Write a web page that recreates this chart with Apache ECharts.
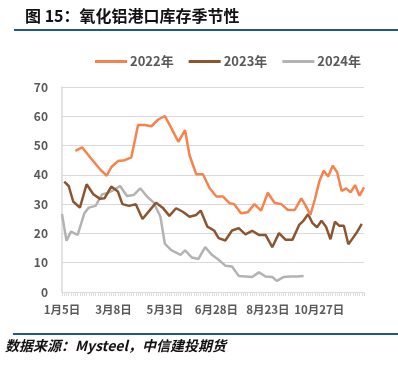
<!DOCTYPE html>
<html>
<head>
<meta charset="utf-8">
<script src="https://cdn.jsdelivr.net/npm/echarts@6/dist/echarts.min.js"></script>
<style>
html,body{margin:0;padding:0;background:#fff;}
#c{width:398px;height:367px;}
</style>
</head>
<body>
<div id="c"></div>
<script>
// ---- data ----
const tickLabels = ['1月5日', '3月8日', '5月3日', '6月28日', '8月23日', '10月27日'];
const slotCount = 136;
const labelEvery = 23;
const seriesNames = ['2022年', '2023年', '2024年'];

const pos2022 = [6, 9, 13, 17, 20, 22, 25, 28, 31, 34, 37, 40, 43, 46, 49, 52, 55, 57, 60, 63, 66, 69, 72, 75, 77, 80, 83, 86, 89, 92, 95, 98, 101, 104, 107, 109, 111, 113, 115, 117, 119, 121, 123, 125, 127, 129, 131, 133, 135];
const val2022 = [48.2, 49.4, 45.6, 41.9, 39.7, 42.6, 44.7, 45.0, 46.0, 57.0, 57.0, 56.6, 58.9, 60.1, 55.8, 51.3, 55.3, 46.7, 40.2, 40.2, 35.4, 32.6, 32.6, 30.3, 30.0, 26.9, 27.2, 30.0, 27.8, 33.9, 30.5, 30.0, 28.0, 28.0, 32.0, 29.4, 26.3, 31.5, 37.7, 41.4, 39.4, 43.1, 40.9, 34.5, 35.4, 34.0, 36.5, 32.9, 35.7];

const pos2023 = [1, 3, 5, 8, 11, 14, 17, 19, 22, 25, 27, 30, 33, 36, 39, 42, 45, 48, 51, 54, 57, 60, 62, 65, 68, 70, 73, 76, 79, 82, 85, 88, 91, 94, 97, 100, 103, 106, 108, 110, 112, 114, 116, 118, 120, 122, 124, 126, 128, 130, 132, 134];
const val2023 = [37.7, 36.2, 30.9, 28.8, 36.8, 33.4, 31.8, 32.0, 36.0, 34.3, 30.0, 29.4, 30.0, 24.9, 27.7, 30.5, 28.8, 26.0, 28.6, 27.4, 25.7, 26.3, 27.8, 22.3, 21.0, 18.4, 17.6, 21.0, 21.8, 19.7, 20.9, 19.5, 19.5, 15.3, 20.1, 17.8, 17.8, 22.9, 24.4, 26.6, 23.5, 22.1, 24.3, 22.3, 18.0, 24.0, 22.6, 22.6, 16.3, 18.4, 20.6, 23.3];

const pos2024 = [0, 2, 4, 7, 10, 12, 15, 18, 20, 23, 26, 29, 32, 35, 38, 41, 44, 46, 49, 53, 55, 58, 61, 64, 67, 70, 73, 76, 79, 82, 85, 88, 91, 94, 96, 99, 102, 105, 108];
const val2024 = [26.6, 17.5, 20.6, 19.5, 26.9, 28.8, 29.4, 33.4, 33.7, 34.8, 36.2, 32.8, 33.1, 35.4, 32.6, 30.5, 25.7, 16.4, 14.2, 12.7, 14.2, 11.8, 11.3, 15.3, 12.7, 11.0, 9.0, 8.7, 5.5, 5.3, 5.1, 6.7, 5.3, 5.1, 3.8, 5.1, 5.3, 5.3, 5.5];

const colors = ['#F6824C', '#8C5530', '#B3B3B3'];

// ---- build ----
const categories = Array.from({length: slotCount}, (_, i) =>
  i % labelEvery === 0 && tickLabels[i / labelEvery] ? tickLabels[i / labelEvery] : '');
const pairs = (p, v) => p.map((x, i) => [x, v[i]]);
const seriesData = [pairs(pos2022, val2022), pairs(pos2023, val2023), pairs(pos2024, val2024)];

const chart = echarts.init(document.getElementById('c'), null, {renderer: 'canvas'});
const font = "'Noto Sans CJK SC', 'Noto Sans', sans-serif";
chart.setOption({
  animation: false,
  textStyle: {fontFamily: font},
  graphic: [
    {type: 'text', left: 25, top: 8, style: {text: '图 15：氧化铝港口库存季节性', font: "bold 16px 'Noto Sans CJK SC'", fill: '#111'}},
    {type: 'rect', shape: {x: 14, y: 29, width: 384, height: 2}, style: {fill: '#1E5A8C'}},
    {type: 'rect', shape: {x: 13, y: 333, width: 385, height: 2}, style: {fill: '#1E5A8C'}},
    {type: 'text', left: 5, top: 339, style: {text: '数据来源：Mysteel，中信建投期货', font: "italic bold 14px 'Noto Sans CJK SC'", fill: '#111'}}
  ],
  legend: {
    left: 90, top: 50,
    itemWidth: 32, itemHeight: 3, itemGap: 15, icon: 'rect',
    textStyle: {fontSize: 13, fontWeight: 'bold', color: '#595959', padding: [0, 0, 0, -2]},
    data: seriesNames
  },
  grid: {left: 62, right: 34, top: 87, bottom: 75},
  xAxis: {
    type: 'category', data: categories, boundaryGap: false,
    axisLine: {lineStyle: {color: '#D9D9D9', width: 1}},
    axisTick: {show: true, interval: 0, length: 4, lineStyle: {color: '#DDDDDD'}},
    axisLabel: {interval: labelEvery - 1, fontSize: 11.5, fontWeight: 'bold', color: '#595959', margin: 12, hideOverlap: false}
  },
  yAxis: {
    type: 'value', min: 0, max: 70, interval: 10,
    axisLine: {show: true, lineStyle: {color: '#D9D9D9', width: 1.5}},
    axisTick: {show: false},
    axisLabel: {fontSize: 12, fontWeight: 'bold', color: '#595959', margin: 14},
    splitLine: {lineStyle: {color: '#D9D9D9', width: 1}}
  },
  series: seriesNames.map((n, k) => ({
    name: n, type: 'line', data: seriesData[k], showSymbol: false, symbol: 'none',
    color: colors[k], lineStyle: {width: 2.5, color: colors[k]}, z: 3 - k
  }))
});
</script>
</body>
</html>
